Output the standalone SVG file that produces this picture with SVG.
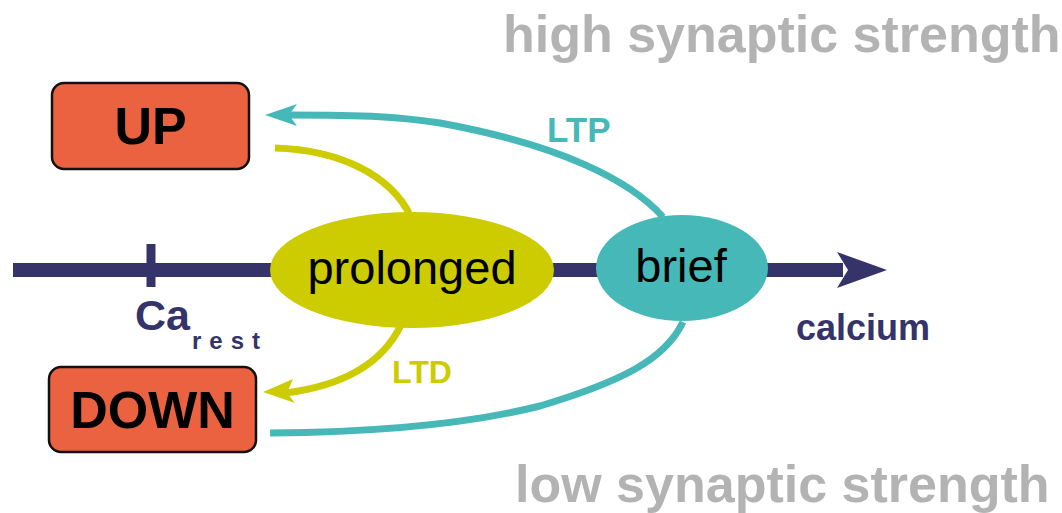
<svg xmlns="http://www.w3.org/2000/svg" width="1062" height="513" viewBox="0 0 1062 513">
<style>
  text { font-family: "Liberation Sans", Arial, sans-serif; }
  .box { fill: #EB6240; stroke: #111; stroke-width: 2.5; }
  .boxtxt { font-weight: bold; font-size: 52px; fill: #000; text-anchor: middle; }
  .big { font-weight: bold; font-size: 52px; fill: #B3B3B3; }
  .navy { fill: #34346A; }
  .teal { stroke: #47B8B8; fill: none; stroke-width: 7; }
  .yel { stroke: #CCCC00; fill: none; stroke-width: 7; }
  .ell { font-size: 47px; fill: #000; text-anchor: middle; }
</style>
<text class="big" x="503" y="52">high synaptic strength</text>
<text class="big" x="515" y="502">low synaptic strength</text>

<g id="axis">
  <rect class="navy" x="13" y="263" width="830" height="14"/>
  <rect class="navy" x="146.5" y="244" width="9" height="43"/>
  <path class="navy" d="M887 270 L837 252 L848 270 L837 288 Z"/>
  <text class="navy" x="135" y="330" font-size="43" font-weight="bold">Ca</text>
  <text class="navy" x="192" y="349" font-size="24" font-weight="bold" letter-spacing="8">rest</text>
  <text class="navy" x="796" y="340" font-size="36" font-weight="bold">calcium</text>
</g>

<g id="connectors">
  <path class="teal" d="M663 217 C630 180 560 145 440 123 C400 117 370 115 288 115"/>
  <path d="M265 115 L297 104 L289 115 L297 126 Z" fill="#47B8B8"/>
  <path class="yel" d="M275 148 C340 150 390 175 410 215"/>
  <path class="teal" d="M683 322 C665 360 620 382 540 406 C480 421 400 432 270 433"/>
  <path class="yel" d="M401 325 C385 358 350 385 285 393"/>
  <path d="M263 392 L293 379 L287 393 L295 403 Z" fill="#CCCC00"/>
  <text x="547" y="142" font-size="35" font-weight="bold" fill="#47B8B8">LTP</text>
  <text x="392" y="383" font-size="32" font-weight="bold" fill="#CCCC00">LTD</text>
</g>

<g id="up">
  <rect class="box" x="52" y="83" width="197" height="86" rx="12"/>
  <text class="boxtxt" x="150.5" y="144">UP</text>
</g>
<g id="down">
  <rect class="box" x="49" y="367" width="207" height="85" rx="12"/>
  <text class="boxtxt" x="152.5" y="428">DOWN</text>
</g>
<g id="prolonged">
  <ellipse cx="412" cy="270" rx="142" ry="58" fill="#CCCC00"/>
  <text class="ell" x="412" y="284">prolonged</text>
</g>
<g id="brief">
  <ellipse cx="682" cy="268" rx="86" ry="53" fill="#47B8B8"/>
  <text class="ell" x="681" y="282">brief</text>
</g>
</svg>
